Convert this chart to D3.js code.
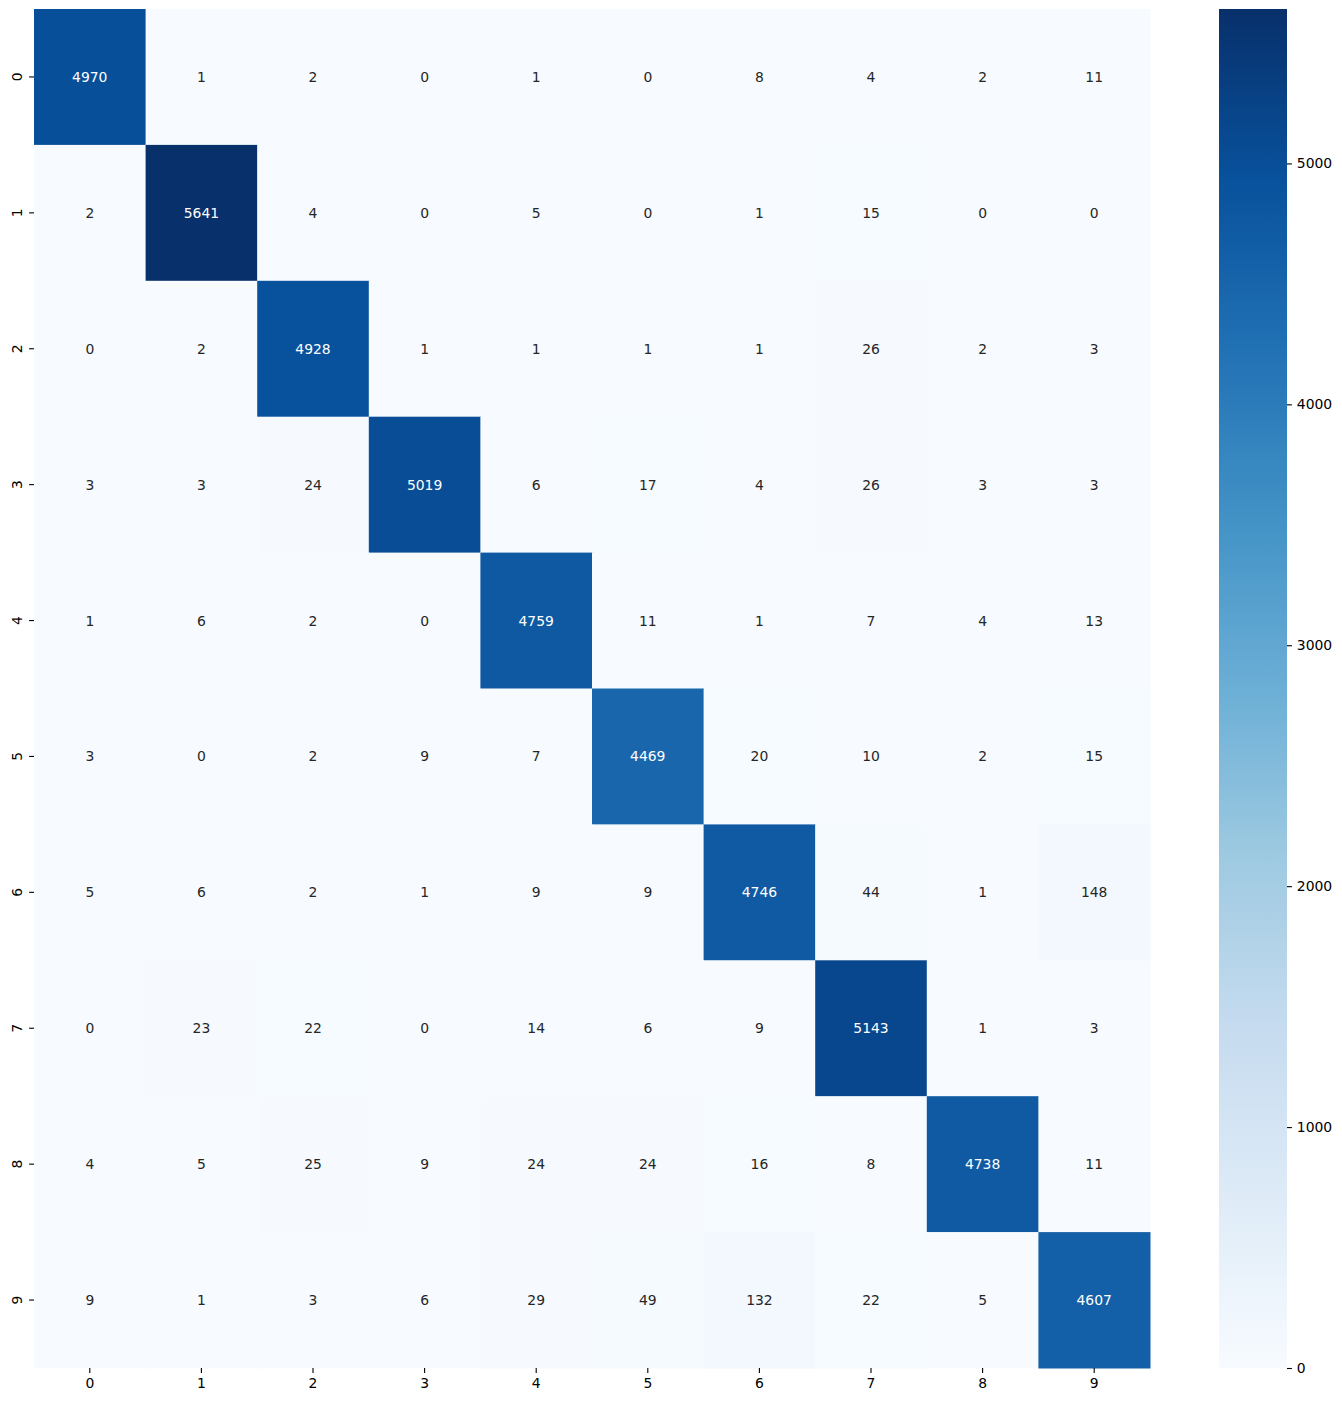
<!DOCTYPE html>
<html><head><meta charset="utf-8">
<script src="https://cdn.jsdelivr.net/npm/d3@7"></script>
<style>body{margin:0;background:#fff;} text{font-family:"DejaVu Sans",sans-serif;}</style>
</head><body>
<svg id="chart" width="1342" height="1402"></svg>
<script>
const labels = ["0","1","2","3","4","5","6","7","8","9"];
const matrix = [
  [4970,1,2,0,1,0,8,4,2,11],
  [2,5641,4,0,5,0,1,15,0,0],
  [0,2,4928,1,1,1,1,26,2,3],
  [3,3,24,5019,6,17,4,26,3,3],
  [1,6,2,0,4759,11,1,7,4,13],
  [3,0,2,9,7,4469,20,10,2,15],
  [5,6,2,1,9,9,4746,44,1,148],
  [0,23,22,0,14,6,9,5143,1,3],
  [4,5,25,9,24,24,16,8,4738,11],
  [9,1,3,6,29,49,132,22,5,4607]
];
const colorbarTicks = [0,1000,2000,3000,4000,5000];
const bluesStops = ["#f7fbff","#deebf7","#c6dbef","#9ecae1","#6baed6","#4292c6","#2171b5","#08519c","#08306b"];

const svg = d3.select("#chart");
const L = 34, R = 1150, T = 9, B = 1368;
const vmin = 0, vmax = d3.max(matrix.flat());
const x = d3.scaleBand().domain(labels).range([L, R]).padding(0);
const y = d3.scaleBand().domain(labels).range([T, B]).padding(0);
const norm = d3.scaleLinear().domain([vmin, vmax]).range([0,1]).clamp(true);
const cmap = d3.scaleLinear().domain(d3.range(bluesStops.length).map(i => i/(bluesStops.length-1))).range(bluesStops).interpolate(d3.interpolateRgb);
const color = v => cmap(norm(v));

function lum(c) {
  const rgb = d3.rgb(c);
  const f = u => { u/=255; return u <= 0.03928 ? u/12.92 : Math.pow((u+0.055)/1.055, 2.4); };
  return 0.2126*f(rgb.r) + 0.7152*f(rgb.g) + 0.0722*f(rgb.b);
}

const cells = [];
matrix.forEach((row, i) => row.forEach((v, j) => cells.push({r: labels[i], c: labels[j], v})));

svg.append("g").selectAll("rect").data(cells).join("rect")
  .attr("x", d => x(d.c)).attr("y", d => y(d.r))
  .attr("width", x.bandwidth()+0.5).attr("height", y.bandwidth()+0.5)
  .attr("fill", d => color(d.v));

svg.append("g").selectAll("text").data(cells).join("text")
  .attr("x", d => x(d.c) + x.bandwidth()/2)
  .attr("y", d => y(d.r) + y.bandwidth()/2)
  .attr("text-anchor", "middle").attr("dominant-baseline", "central")
  .attr("font-size", "13.9px")
  .attr("fill", d => lum(color(d.v)) < 0.408 ? "#ffffff" : "#262626")
  .text(d => d.v);

// axes
const xAxis = d3.axisBottom(x).tickSize(4.9).tickPadding(4.9);
const gx = svg.append("g").attr("transform", `translate(0,${B})`).call(xAxis);
gx.select(".domain").remove();
gx.selectAll("text").attr("font-size", "13.9px").attr("fill", "#000").attr("font-family", "DejaVu Sans");
gx.selectAll("line").attr("stroke", "#000").attr("stroke-width", 1.1);

const yAxis = d3.axisLeft(y).tickSize(4.9).tickPadding(4.9);
const gy = svg.append("g").attr("transform", `translate(${L},0)`).call(yAxis);
gy.select(".domain").remove();
gy.selectAll("line").attr("stroke", "#000").attr("stroke-width", 1.1);
gy.selectAll("text").attr("font-size", "13.9px").attr("fill", "#000").attr("font-family", "DejaVu Sans")
  .attr("text-anchor", "middle").attr("dy", null).attr("dominant-baseline", "central")
  .attr("x", -17).attr("transform", "rotate(-90,-17,0)");

// colorbar
const cbL = 1219, cbR = 1287;
const cy = d3.scaleLinear().domain([vmin, vmax]).range([B, T]);
const defs = svg.append("defs");
const grad = defs.append("linearGradient").attr("id", "cbgrad").attr("x1", 0).attr("y1", 1).attr("x2", 0).attr("y2", 0);
d3.range(0, 1.0001, 1/64).forEach(t => grad.append("stop").attr("offset", t).attr("stop-color", cmap(t)));
svg.append("rect").attr("x", cbL).attr("y", T).attr("width", cbR-cbL).attr("height", B-T).attr("fill", "url(#cbgrad)");
const cAxis = d3.axisRight(cy).tickValues(colorbarTicks).tickFormat(d3.format("d")).tickSize(4.9).tickPadding(4.9);
const gc = svg.append("g").attr("transform", `translate(${cbR},0)`).call(cAxis);
gc.select(".domain").remove();
gc.selectAll("line").attr("stroke", "#000").attr("stroke-width", 1.1);
gc.selectAll("text").attr("font-size", "13.9px").attr("fill", "#000").attr("font-family", "DejaVu Sans");
</script>
</body></html>
